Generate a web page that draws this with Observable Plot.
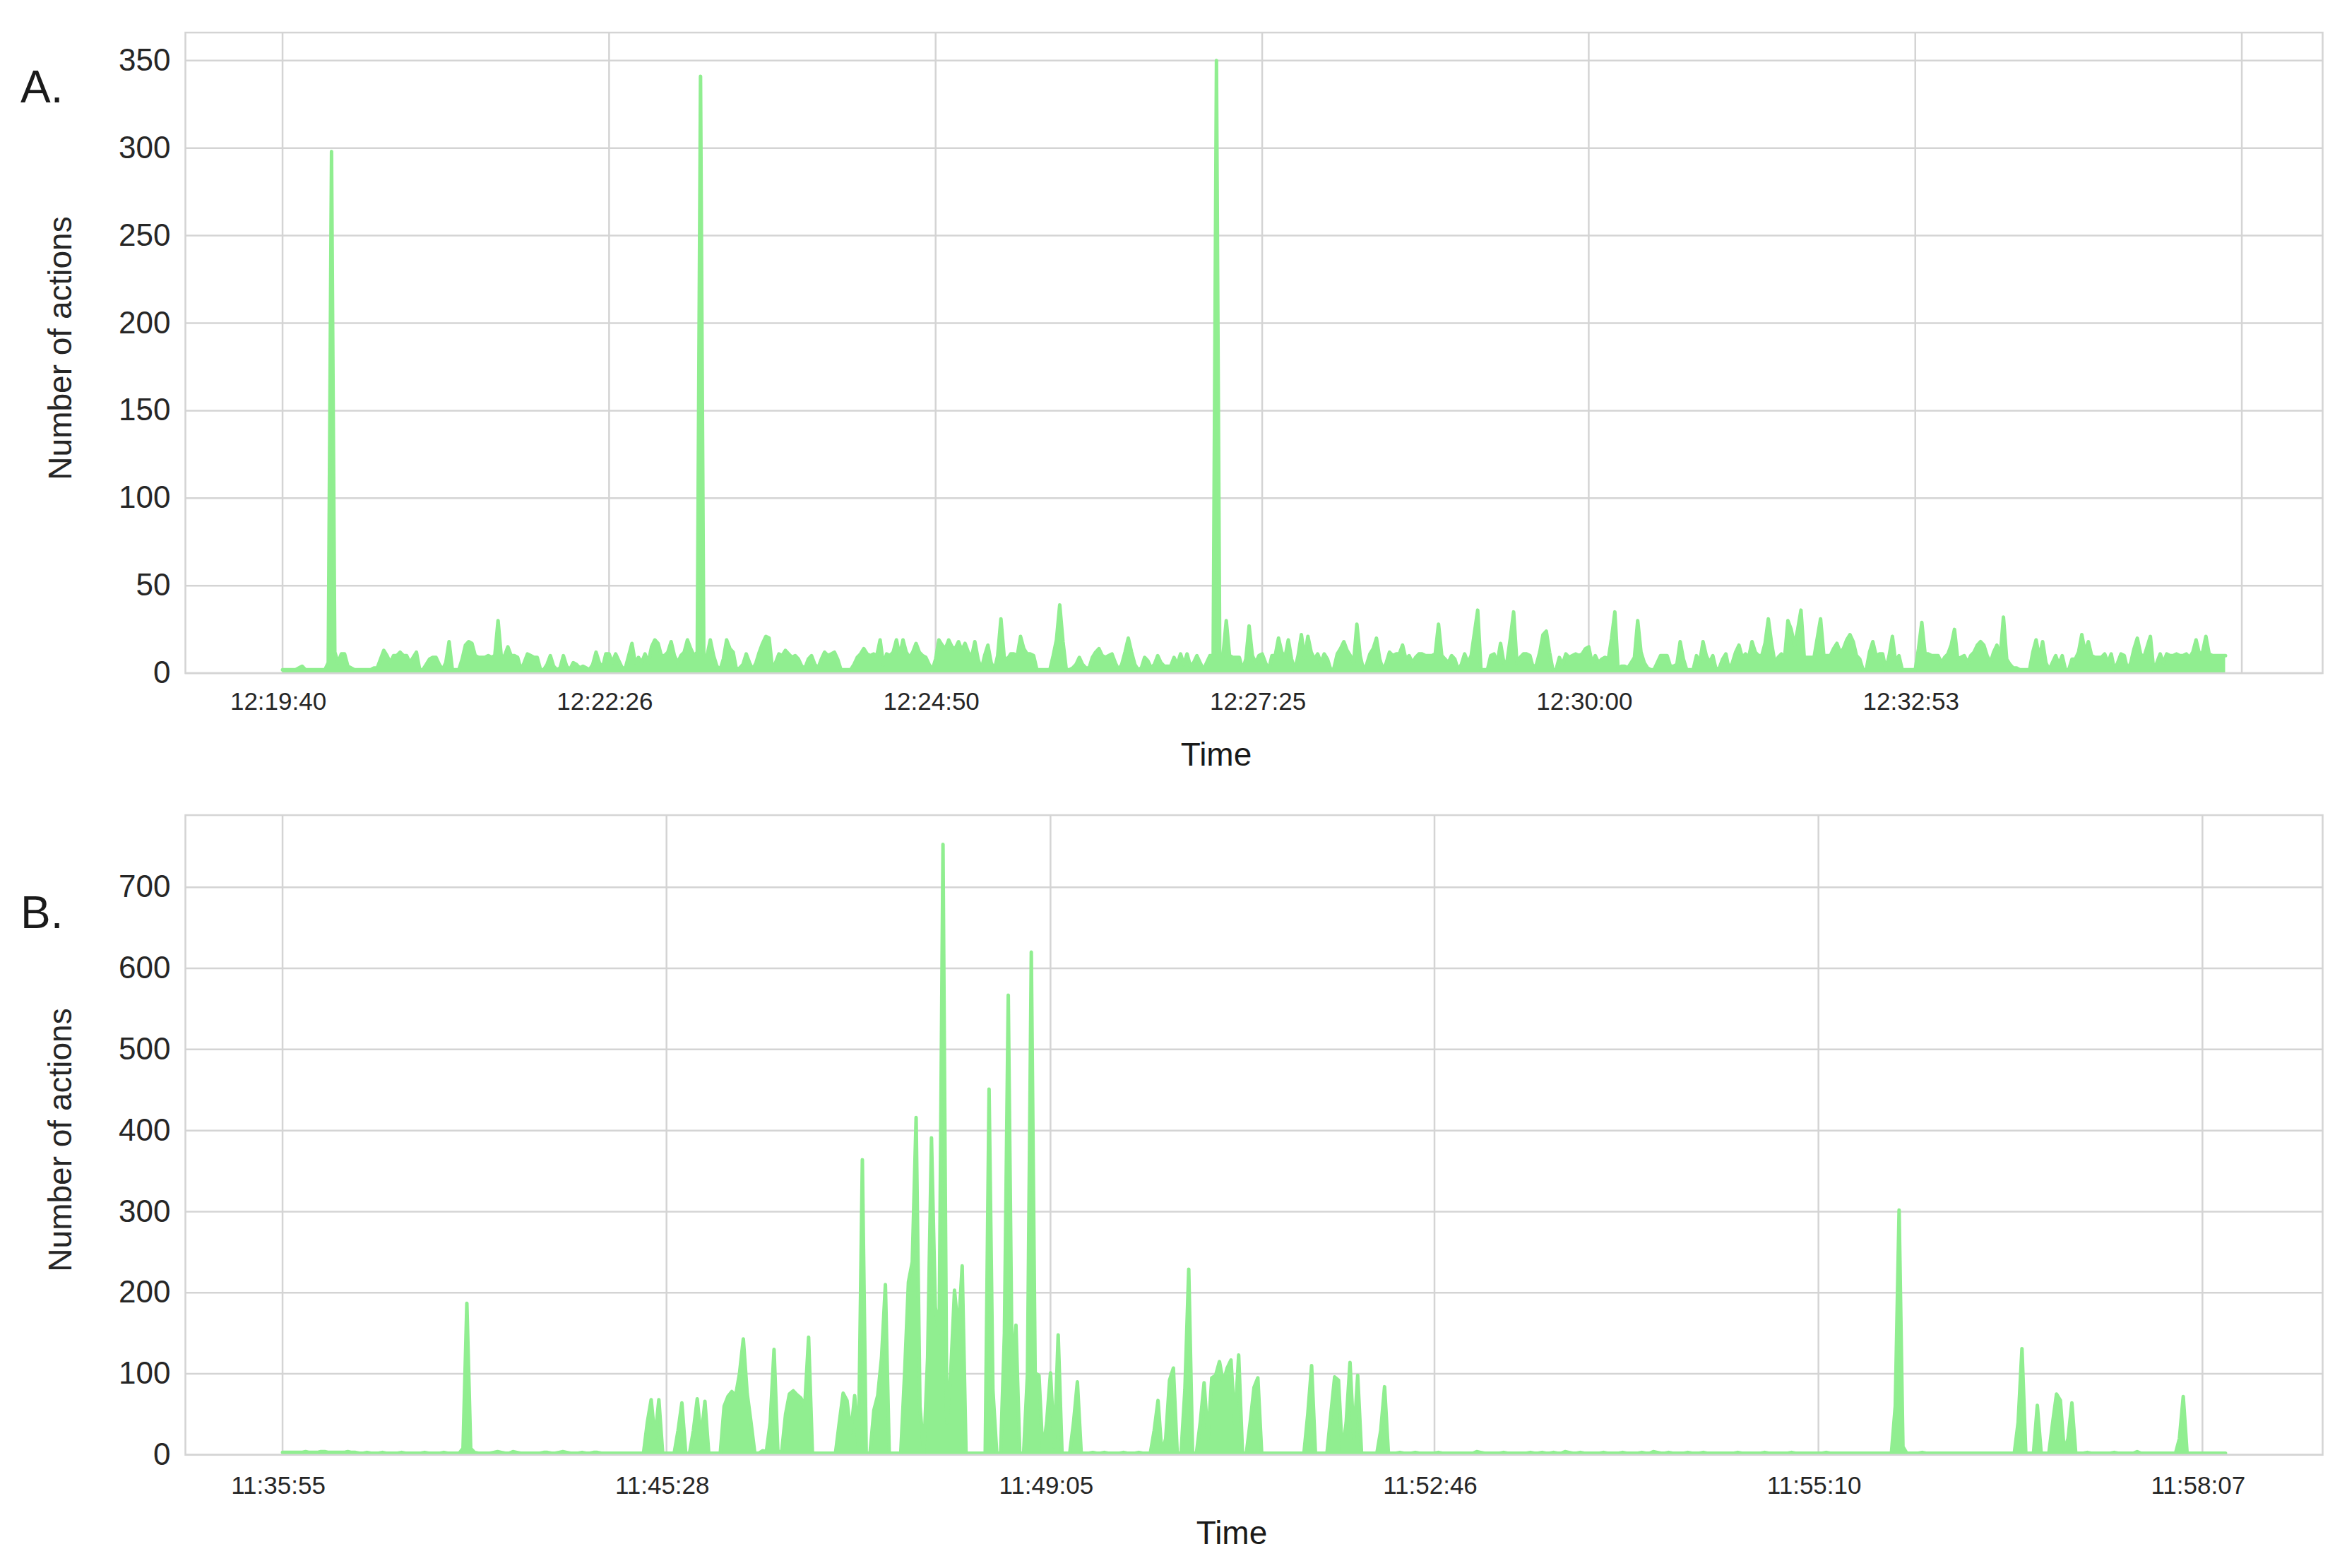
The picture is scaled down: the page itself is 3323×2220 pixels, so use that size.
<!DOCTYPE html>
<html>
<head>
<meta charset="utf-8">
<script src="https://cdn.jsdelivr.net/npm/d3@7"></script>
<script src="https://cdn.jsdelivr.net/npm/@observablehq/plot@0.6"></script>
<style>
  html, body { margin: 0; padding: 0; background: #ffffff; }
  #root { position: relative; width: 3323px; height: 2220px; overflow: hidden;
          font-family: "Liberation Sans", Arial, Helvetica, sans-serif; color: #262626; }
  #root svg { position: absolute; left: 0; }
</style>
</head>
<body>
<div id="root"></div>
<script>
// ---------------- DATA ----------------
const panelLabels = ["A.", "B."];
const yAxisTitle = "Number of actions";
const xAxisTitle = "Time";

// Panel A: number of actions per sample (index-based time axis)
const actionsA = [
  2,2,2,2,2,3,4,2,2,2, 2,2,2,2,6,298,12,6,11,11,
  4,3,2,2,2,2,2,2,3,3, 8,13,10,6,10,10,12,10,10,6,
  9,12,2,2,5,8,9,9,5,2, 6,18,2,2,2,8,16,18,17,10,
  9,9,9,10,9,10,30,9,10,15, 10,10,9,2,6,11,10,9,9,2,
  2,5,10,4,2,3,10,4,2,6, 5,3,4,3,2,5,12,6,3,11,
  11,6,11,7,3,3,10,17,6,9, 6,11,6,15,19,17,10,10,12,18,
  10,6,10,12,19,14,10,12,341,10, 10,19,10,4,2,8,19,14,12,2,
  3,5,11,6,2,6,12,17,21,20, 3,6,11,10,13,11,9,10,8,4,
  3,8,10,5,3,8,12,10,11,12, 8,2,2,2,2,5,9,11,14,11,
  10,11,10,19,5,11,10,12,19,10, 19,12,9,12,17,12,10,9,5,2,
  8,19,16,14,19,15,14,18,13,17, 12,9,18,8,2,10,16,6,2,10,
  31,9,8,11,11,10,21,14,11,11, 10,2,2,2,2,2,10,19,39,18,
  2,2,3,5,9,5,3,3,9,12, 14,10,9,10,11,6,2,5,12,20,
  12,5,2,3,9,7,3,5,10,6, 4,4,4,9,5,11,5,11,4,6,
  10,6,2,6,10,10,350,10,10,30, 10,9,9,9,2,8,27,10,6,10,
  11,6,2,10,10,20,12,9,19,8, 2,10,22,9,21,12,8,11,6,11,
  8,2,3,11,14,18,13,10,6,28, 10,2,5,11,14,20,8,2,6,12,
  10,11,11,16,8,10,6,9,11,11, 10,10,10,11,28,10,8,6,10,8,
  2,5,11,6,10,23,36,2,2,2, 10,11,6,17,6,7,20,35,6,9,
  11,11,10,3,5,12,22,24,12,2, 2,9,5,11,9,10,11,10,11,14,
  15,6,10,6,8,9,8,20,35,2, 4,4,3,6,9,30,12,6,3,2,
  2,6,10,10,10,4,4,5,18,8, 2,2,2,10,6,18,10,6,10,2,
  3,8,11,2,6,12,16,9,11,9, 18,12,10,10,17,31,17,6,9,11,
  9,30,25,16,25,36,9,9,9,9, 20,31,10,10,10,14,17,12,14,19,
  22,18,10,8,2,2,12,18,10,11, 11,2,10,21,6,10,2,2,2,2,
  2,14,29,11,11,10,10,10,6,9, 11,16,25,8,9,10,6,10,12,16,
  18,16,10,6,12,16,9,32,8,5, 3,3,2,2,2,2,12,19,9,18,
  6,2,6,10,5,10,2,2,8,8, 12,22,12,18,10,9,9,9,11,6,
  11,2,6,11,10,2,6,14,20,11, 9,15,21,2,6,11,6,11,10,10,
  11,10,10,11,9,12,19,11,12,21, 11,10,10,10,10,10
];
const tickIndexA = [0, 100, 200, 300, 400, 500];
const tickLabelsA = ["12:19:40", "12:22:26", "12:24:50", "12:27:25", "12:30:00", "12:32:53"];
const gridIndexA = [0, 100, 200, 300, 400, 500, 600];
const yTicksA = [0, 50, 100, 150, 200, 250, 300, 350];

// Panel B
const actionsB = [
  3,3,3,3,3,3,4,3,3,3, 4,4,3,3,3,3,3,4,3,3,
  2,2,3,2,2,2,3,2,2,2, 2,3,2,2,2,2,2,3,2,2,
  2,2,3,2,2,2,2, 8,187,8,
  3,2,2,2,2,3,4,3,2,2,
  4,3,2,2,2,2,2,2,3,3, 2,2,3,4,3,2,2,2,3,2,
  2,3,3,2,2,2,2,2,2,2, 2,2,2,2,2,
  40,68,20,68,2,
  2,2,2,30,64,2,
  2,30,69,20,66,2,
  2,2,2,
  60,72,78,73,100,143,76,40,2,
  2,5,4,40,130,4,
  4,50,75,79,74,70,60,145,2,
  2,2,2,2,2,2,
  40,76,67,27,73,10,364,2,
  2,55,73,120,210,2,
  2,2,2,
  100,213,238,416,60,2,
  120,391,182,150,753,40,100,203,151,233,2,
  2,2,2,2,2,
  451,80,2,
  2,150,567,100,160,2,
  2,100,620,101,98,2,
  40,101,10,148,2,
  2,2,40,90,2,
  2,2,3,2,2,3,2,2,2,2, 3,2,2,2,3,2,2,2,
  30,67,2,
  20,92,107,2,
  2,80,229,2,
  2,40,89,20,95,98,115,89,107,117,39,123,2,
  2,40,83,95,2,
  2,2,2,2,2,2,2,2,2,2,2,
  50,110,2,
  2,2,2,50,96,92,2,
  40,114,20,98,2,
  2,2,2,2,30,84,2,
  2,2,3,2,2,2,3,2,2,2, 2,2,3,2,2,2,2,2,2,2,
  2,2,4,3,2,2,2,2,2,3, 2,2,2,2,2,2,3,2,2,3,
  2,2,3,2,2,4,3,2,2,3, 2,2,2,2,2,3,2,2,2,2,
  3,2,2,2,2,3,2,2,4,3, 2,2,3,2,2,2,2,3,2,2,
  2,3,2,2,2,2,2,2,2,2, 3,2,2,2,2,2,2,3,2,2,
  2,2,2,2,3,2,2,2,2,2, 2,2,2,3,2,2,2,2,2,2,
  2,2,2,2,2,2,2,2,2,2,
  2,60,302,10,2,
  2,2,2,3,2,2,2,2,2,2, 2,2,2,2,2,2,2,2,2,2, 2,2,2,2,2,2,2,2,
  40,131,2,
  2,2,61,2,
  2,2,40,75,67,5,20,64,2,
  2,2,3,2,2,2,2,2,2,3, 2,2,2,2,2,4,2,2,2,2, 2,2,2,2,2,2,
  20,72,2,
  2,2,2,2,2,2,2,2,2,2
];
const tickIndexB = [0, 100, 200, 300, 400, 500];
const tickLabelsB = ["11:35:55", "11:45:28", "11:49:05", "11:52:46", "11:55:10", "11:58:07"];
const gridIndexB = [0, 100, 200, 300, 400, 500];
const yTicksB = [0, 100, 200, 300, 400, 500, 600, 700];

// ---------------- DRAWING ----------------
const FONT = '"Liberation Sans", Arial, Helvetica, sans-serif';
const GRID = "#d4d4d4";
const FILL = "#90ee90";
const W = 3323;

function drawPanel(cfg) {
  const n = cfg.values.length;
  const data = cfg.values.map((v, i) => ({i, v}));
  const labelOf = new Map(cfg.tickIndex.map((t, k) => [t, cfg.tickLabels[k]]));
  const svg = Plot.plot({
    width: W,
    height: cfg.height,
    marginLeft: 262,
    marginRight: 35,
    marginTop: cfg.marginTop,
    marginBottom: cfg.marginBottom,
    style: {fontFamily: FONT, color: "#262626", background: "transparent", overflow: "visible"},
    x: {domain: [-(n - 1) * 0.05, (n - 1) * 1.05], axis: null},
    y: {domain: [0, cfg.ymax], axis: null},
    marks: [
      Plot.gridX(cfg.gridIndex, {stroke: GRID, strokeOpacity: 1, strokeWidth: 2.5}),
      Plot.gridY(cfg.yTicks, {stroke: GRID, strokeOpacity: 1, strokeWidth: 2.5}),
      Plot.areaY(data, {x: "i", y: "v", fill: FILL, fillOpacity: 1}),
      Plot.lineY(data, {x: "i", y: "v", stroke: FILL, strokeWidth: 5, strokeLinejoin: "round", clip: true}),
      Plot.frame({stroke: GRID, strokeWidth: 2.5}),
      Plot.axisY(cfg.yTicks, {tickSize: 0, tickPadding: 21, fontSize: 44, label: null}),
      Plot.axisX(cfg.tickIndex, {tickSize: 0, tickPadding: cfg.xPad, fontSize: 35, dx: -6,
        tickFormat: d => labelOf.get(d) ?? "", label: null})
    ]
  });
  svg.style.top = cfg.top + "px";
  document.getElementById("root").appendChild(svg);
}

drawPanel({values: actionsA, tickIndex: tickIndexA, tickLabels: tickLabelsA, gridIndex: gridIndexA,
  yTicks: yTicksA, ymax: 366, top: 0, height: 1100, marginTop: 45.6, marginBottom: 147.4, xPad: 27});
drawPanel({values: actionsB, tickIndex: tickIndexB, tickLabels: tickLabelsB, gridIndex: gridIndexB,
  yTicks: yTicksB, ymax: 789, top: 1100, height: 1120, marginTop: 53.6, marginBottom: 160.7, xPad: 30});

// Panel letters and axis titles (overlay)
const overlay = d3.select("#root").append("svg")
  .attr("width", W).attr("height", 2220)
  .style("top", "0px").style("pointer-events", "none")
  .attr("font-family", FONT).attr("fill", "#1a1a1a");

const letters = [{t: panelLabels[0], y: 145}, {t: panelLabels[1], y: 1314}];
overlay.selectAll("text.letter").data(letters).join("text")
  .attr("class", "letter").attr("x", 29).attr("y", d => d.y)
  .attr("font-size", 64).text(d => d.t);

const yTitles = [{cy: 493}, {cy: 1614}];
overlay.selectAll("text.ytitle").data(yTitles).join("text")
  .attr("class", "ytitle")
  .attr("transform", d => `translate(101,${d.cy}) rotate(-90)`)
  .attr("text-anchor", "middle").attr("font-size", 46).attr("fill", "#262626")
  .text(yAxisTitle);

const xTitles = [{cx: 1722, y: 1084}, {cx: 1744, y: 2186}];
overlay.selectAll("text.xtitle").data(xTitles).join("text")
  .attr("class", "xtitle").attr("x", d => d.cx).attr("y", d => d.y)
  .attr("text-anchor", "middle").attr("font-size", 46).attr("fill", "#1a1a1a")
  .text(xAxisTitle);
</script>
</body>
</html>
